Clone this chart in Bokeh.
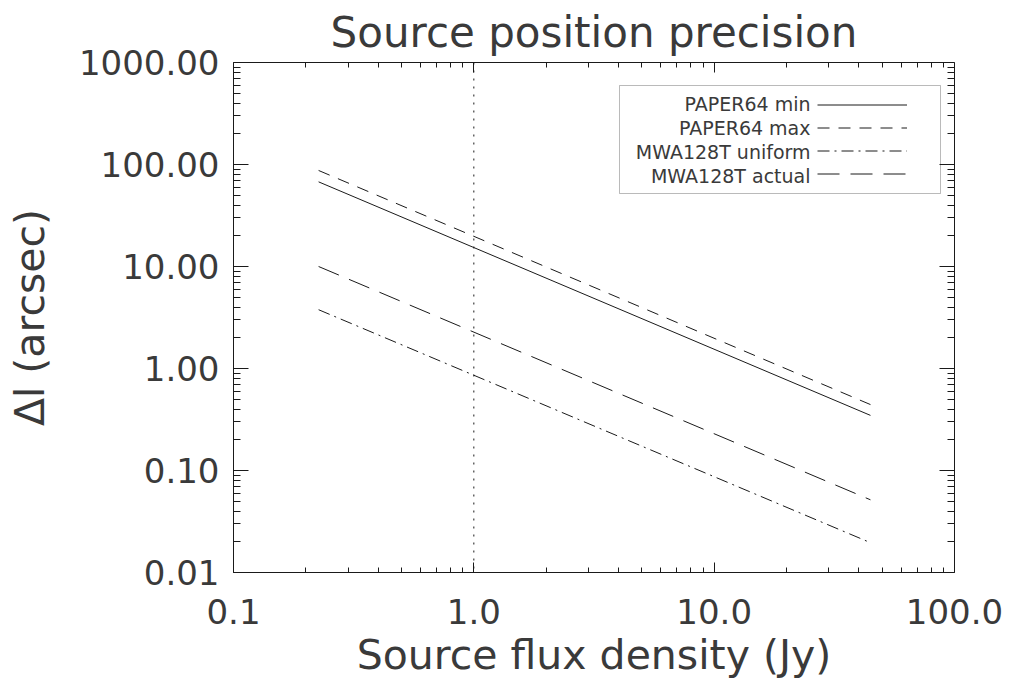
from bokeh.plotting import figure
from bokeh.models import (Range1d, LogAxis, FixedTicker, PrintfTickFormatter, Span,
                          Legend, LegendItem, BoxAnnotation, Label)
from bokeh.core.properties import value
from bokeh.embed import file_html
from bokeh.resources import INLINE
import math

# ---------------- data ----------------
flux = [0.226, 44.7]                      # Jy
paper64_min = [67.6, 0.347]               # arcsec
paper64_max = [87.4, 0.443]
mwa128t_uniform = [3.77, 0.0196]
mwa128t_actual = [10.0, 0.0516]
series_names = ["PAPER64 min", "PAPER64 max", "MWA128T uniform", "MWA128T actual"]
x_ticks = [0.1, 1.0, 10.0, 100.0]
y_ticks = [0.01, 0.1, 1.0, 10.0, 100.0, 1000.0]
marker_flux = 1.0

# ---------------- style ----------------
FONT = "DejaVu Sans"
INK = "#1a1a1a"
TXT = "#3a3a3a"
W, H = 1010, 683
FL, FR, FT, FB = 233, 954, 62, 572   # frame edges (px)
X_LO, X_HI = 0.1, 100.0
Y_LO, Y_HI = 0.01, 1000.0

x_minor = [m * 10.0 ** e for e in range(-1, 2) for m in range(2, 10)]
y_minor = [m * 10.0 ** e for e in range(-2, 3) for m in range(2, 10)]

p = figure(width=W, height=H, x_axis_type="log", y_axis_type="log",
           x_range=Range1d(X_LO, X_HI), y_range=Range1d(Y_LO, Y_HI),
           output_backend="svg", toolbar_location=None,
           min_border_left=FL, min_border_right=W - FR,
           min_border_top=FT, min_border_bottom=H - FB,
           title="Source position precision")

p.background_fill_color = None
p.border_fill_color = "white"
p.outline_line_color = INK
p.grid.visible = False

p.title.align = "center"
p.title.text_font = FONT
p.title.text_font_size = "42px"
p.title.text_font_style = "normal"
p.title.text_color = TXT
p.title.standoff = 11


def style_axis(ax, is_x, show_labels, show_ticks):
    ax.ticker = FixedTicker(ticks=x_ticks if is_x else y_ticks,
                            minor_ticks=x_minor if is_x else y_minor)
    ax.formatter = PrintfTickFormatter(format="%.1f" if is_x else "%.2f")
    ax.axis_line_color = INK
    ax.major_tick_line_color = INK if show_ticks else None
    ax.minor_tick_line_color = INK if show_ticks else None
    ax.major_tick_out = 0
    ax.minor_tick_out = 0
    ax.major_tick_in = (10 if is_x else 15) if show_ticks else 0
    ax.minor_tick_in = (5 if is_x else 7) if show_ticks else 0
    ax.major_label_text_font = FONT
    ax.major_label_text_font_size = "34px"
    ax.major_label_text_color = TXT
    ax.axis_label_text_font = FONT
    ax.axis_label_text_font_size = "41px"
    ax.axis_label_text_font_style = "normal"
    ax.axis_label_text_color = TXT
    if not show_labels:
        ax.major_label_text_font_size = "0px"
        ax.major_label_text_color = None
        ax.major_label_standoff = 0
        ax.axis_label = None


# labelled axes (ticks drawn by the edge-pinned axes below)
xb = p.xaxis[0]
yl = p.yaxis[0]
style_axis(xb, True, True, False)
style_axis(yl, False, True, False)
xb.axis_label = "Source flux density (Jy)"
xb.major_label_standoff = 26
xb.axis_label_standoff = 4
yl.axis_label = "Δl (arcsec)"
yl.major_label_standoff = 14
yl.axis_label_standoff = 22

# inward tick marks on all four edges
for side, is_x, loc in (("below", True, Y_LO), ("left", False, X_LO),
                        ("above", True, Y_HI), ("right", False, X_HI)):
    ax = LogAxis(fixed_location=loc)
    style_axis(ax, is_x, False, True)
    p.add_layout(ax, side)

# ---------------- series ----------------
r_min = p.line(flux, paper64_min, line_color=INK, line_width=1)
r_max = p.line(flux, paper64_max, line_color=INK, line_width=1, line_dash="12 9")
r_uni = p.line(flux, mwa128t_uniform, line_color=INK, line_width=1, line_dash="12 5 2 5")
r_act = p.line(flux, mwa128t_actual, line_color=INK, line_width=1, line_dash="22 11")
renderers = [r_min, r_max, r_uni, r_act]

p.add_layout(Span(location=marker_flux, dimension="height", line_color=INK,
                  line_width=1, line_dash="2 6"))


# ---------------- legend: labels left of line samples ----------------
def px_to_x(px):
    return 10 ** (math.log10(X_LO) + (px - FL) / (FR - FL) * 3)


def py_to_y(py):
    return 10 ** (math.log10(Y_HI) - (py - FT) / (FB - FT) * 5)


PAD = 10
legend = Legend(items=[LegendItem(label=value(""), renderers=[r]) for r in renderers],
                location=(827 - PAD - FL, 388),
                glyph_width=90, glyph_height=21, label_height=21, label_width=0,
                spacing=2, padding=PAD, margin=0, label_standoff=0,
                label_text_font_size="1px", label_text_color=None,
                border_line_color=None, background_fill_alpha=0)
p.add_layout(legend)

for i, name in enumerate(series_names):
    p.add_layout(Label(x=px_to_x(810), y=py_to_y(103.5 + 24 * i), text=name,
                       text_align="right", text_baseline="middle",
                       text_font=FONT, text_font_size="19px", text_color=TXT))

p.add_layout(BoxAnnotation(left=px_to_x(619), right=px_to_x(940),
                           top=py_to_y(85), bottom=py_to_y(193),
                           fill_alpha=0, line_color=INK, line_width=1))

open("out.html", "w").write(file_html(p, INLINE))
